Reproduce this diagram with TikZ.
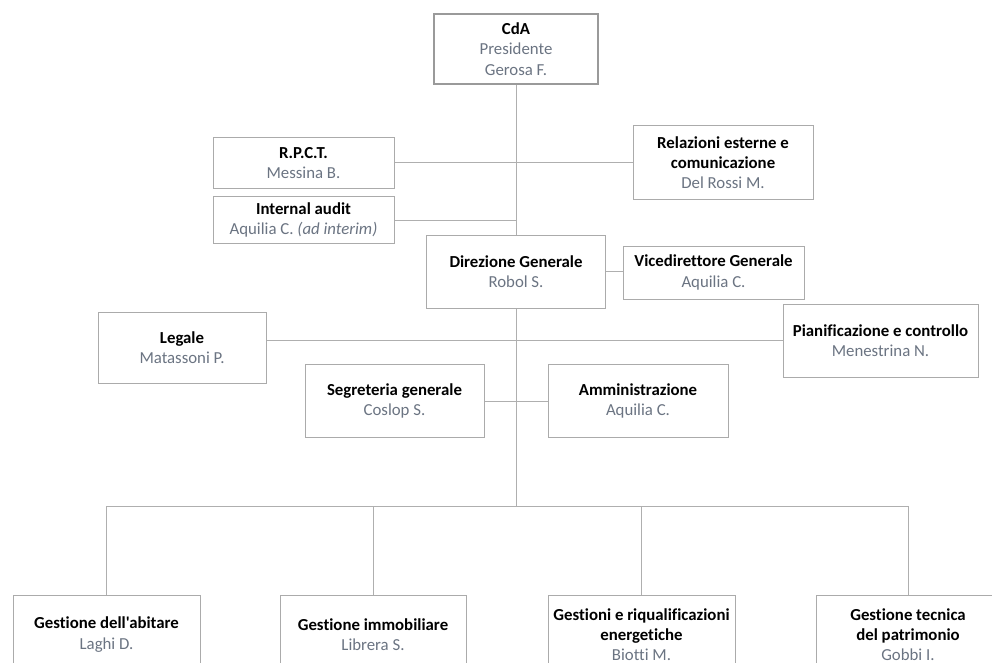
\documentclass[tikz,border=0pt]{standalone}
\usepackage{fontspec}
\setmainfont[Ligatures={NoCommon,TeXOff}]{Carlito}
\definecolor{boxgray}{HTML}{ABABAB}
\definecolor{linegray}{HTML}{AFAFAF}
\definecolor{namec}{HTML}{6B7482}
\newcommand{\nm}[1]{{\color{namec}#1}}
\tikzset{
  unitbox/.style={draw=boxgray, fill=white, line width=1pt, align=center, inner sep=2pt,
    font=\fontsize{16.8}{20.2}\selectfont},
  topbox/.style={unitbox, line width=2.6pt, draw=boxgray!90!black},
  link/.style={draw=linegray, line width=1pt}
}
\begin{document}
\begin{tikzpicture}[x=1pt, y=-1pt]
		\clip (0,0) rectangle (992,663);
		\fill[white] (0,0) rectangle (992,663);
		% top
		\node[topbox, minimum width=164pt, minimum height=70pt] (cda) at (516,49) {\textbf{CdA}\\\nm{Presidente}\\\nm{Gerosa F.}};
		\node[unitbox, minimum width=181pt, minimum height=50pt] (rpct) at (303.5,163) {\textbf{R.P.C.T.}\\\nm{Messina B.}};
		\node[unitbox, minimum width=181pt, minimum height=47pt] (audit) at (303.5,220) {\textbf{Internal audit}\\\nm{Aquilia C. \textit{(ad interim)}}};
		\node[unitbox, minimum width=180pt, minimum height=73pt] (relest) at (723,162.5) {\textbf{Relazioni esterne e}\\\textbf{comunicazione}\\\nm{Del Rossi M.}};
		% direzione
		\node[unitbox, minimum width=179pt, minimum height=73pt] (dirgen) at (516,271.5) {\textbf{Direzione Generale}\\\nm{Robol S.}};
		\node[unitbox, minimum width=181pt, minimum height=53pt] (vicedir) at (713.5,272.5) {\textbf{Vicedirettore Generale}\\\nm{Aquilia C.}};
		\node[unitbox, minimum width=168pt, minimum height=71pt] (legale) at (182,347.5) {\textbf{Legale}\\\nm{Matassoni P.}};
		\node[unitbox, minimum width=195pt, minimum height=73pt] (pianif) at (880.5,340.5) {\textbf{Pianificazione e controllo}\\\nm{Menestrina N.}};
		\node[unitbox, minimum width=179pt, minimum height=73pt] (segret) at (394.5,401) {\textbf{Segreteria generale}\\\nm{Coslop S.}};
		\node[unitbox, minimum width=180pt, minimum height=73pt] (ammin) at (638,401) {\textbf{Amministrazione}\\\nm{Aquilia C.}};
		% bottom row
		\node[unitbox, minimum width=187pt, minimum height=78pt] (abitare) at (106.5,634.5) {\textbf{Gestione dell'abitare}\\\nm{Laghi D.}};
		\node[unitbox, minimum width=186pt, minimum height=78pt] (immob) at (373,634.5) {\textbf{Gestione immobiliare}\\\nm{Librera S.}};
		\node[unitbox, minimum width=187pt, minimum height=78pt] (energ) at (641.5,634.5) {\textbf{Gestioni e riqualificazioni}\\\textbf{energetiche}\\\nm{Biotti M.}};
		\node[unitbox, minimum width=184pt, minimum height=78pt] (patrim) at (908,634.5) {\textbf{Gestione tecnica}\\\textbf{del patrimonio}\\\nm{Gobbi I.}};
		\coordinate (bus) at (516,506);
		% connectors
		\path[link] (cda.south) -- (dirgen.north);
		\path[link] (dirgen.south) -- (bus);
		\path[link] (rpct.east) -- (rpct.east -| cda.south);
		\path[link] (audit.east) -- (audit.east -| cda.south);
		\path[link] (relest.west) -- (relest.west -| cda.south);
		\path[link] (dirgen.east) -- (dirgen.east -| vicedir.west);
		\path[link] (pianif.west) -- (pianif.west -| legale.east);
		\path[link] (segret.east) -- (segret.east -| ammin.west);
		\path[link] (abitare.north |- bus) -- (patrim.north |- bus);
		\foreach \b in {abitare,immob,energ,patrim}
			\path[link] (\b.north |- bus) -- (\b.north);
\end{tikzpicture}
\end{document}
